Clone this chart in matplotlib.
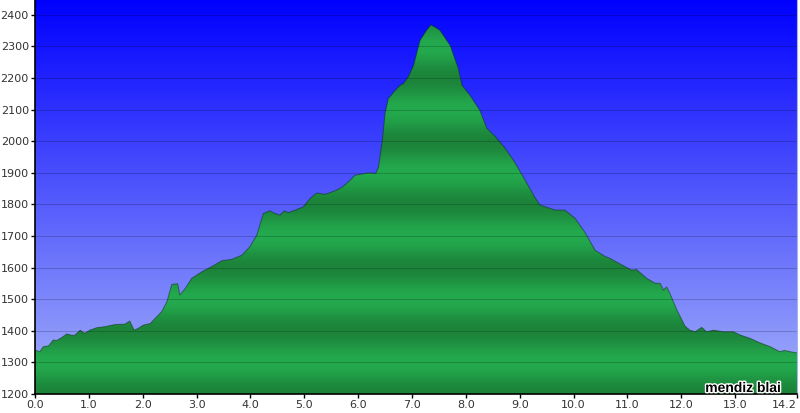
import numpy as np
import matplotlib
matplotlib.use("Agg")
import matplotlib.pyplot as plt
import matplotlib.patheffects as pe
from matplotlib.patches import Polygon

# elevation profile (km, m)
dist = [0.00, 0.09, 0.155, 0.25, 0.34, 0.40, 0.50, 0.59, 0.68, 0.74, 0.84, 0.92,
        1.02, 1.15, 1.30, 1.49, 1.67, 1.76, 1.84, 1.92, 2.01, 2.14, 2.23, 2.35,
        2.45, 2.54, 2.65, 2.69, 2.79, 2.91, 3.10, 3.28, 3.47, 3.65, 3.84, 3.99,
        4.12, 4.24, 4.36, 4.46, 4.55, 4.63, 4.70, 4.83, 4.98, 5.11, 5.23, 5.39,
        5.57, 5.69, 5.82, 5.94, 6.19, 6.33, 6.38, 6.45, 6.50, 6.56, 6.69, 6.78,
        6.84, 6.93, 7.03, 7.15, 7.27, 7.35, 7.43, 7.52, 7.71, 7.86, 7.93, 8.08,
        8.26, 8.39, 8.54, 8.73, 8.91, 9.10, 9.29, 9.38, 9.66, 9.84, 10.03, 10.21,
        10.40, 10.58, 10.68, 10.86, 11.08, 11.17, 11.36, 11.51, 11.61, 11.67, 11.73,
        11.79, 11.92, 12.07, 12.16, 12.26, 12.38, 12.47, 12.60, 12.78, 12.97, 13.09,
        13.28, 13.46, 13.65, 13.83, 13.92, 14.02, 14.15]
elev = [1339, 1334, 1350, 1352, 1371, 1369, 1379, 1390, 1386, 1386, 1402, 1392,
        1402, 1410, 1413, 1420, 1421, 1431, 1402, 1408, 1418, 1423, 1439, 1460,
        1492, 1547, 1549, 1513, 1534, 1566, 1587, 1603, 1622, 1626, 1639, 1666,
        1703, 1771, 1780, 1771, 1766, 1780, 1774, 1782, 1792, 1819, 1836, 1832,
        1843, 1853, 1871, 1892, 1900, 1898, 1919, 2003, 2087, 2135, 2161, 2177,
        2182, 2203, 2240, 2319, 2351, 2368, 2361, 2351, 2303, 2231, 2177, 2145,
        2098, 2041, 2016, 1978, 1933, 1877, 1820, 1798, 1782, 1782, 1756, 1712,
        1655, 1636, 1629, 1612, 1592, 1594, 1566, 1551, 1550, 1529, 1539,
        1518, 1466, 1415, 1402, 1397, 1411, 1397, 1402, 1397, 1397, 1387,
        1376, 1362, 1350, 1334, 1338, 1334, 1330]

xticks = [0, 1, 2, 3, 4, 5, 6, 7, 8, 9, 10, 11, 12, 13, 14.15]
xlabels = ["0.0", "1.0", "2.0", "3.0", "4.0", "5.0", "6.0", "7.0", "8.0", "9.0",
           "10.0", "11.0", "12.0", "13.0", "14.2"]
yticks = list(range(1200, 2401, 100))

xmin, xmax = 0, 14.15
ymin, ymax = 1200, 2447

fig = plt.figure(figsize=(8, 4.13), dpi=100)
ax = fig.add_axes([35 / 800, 19 / 413, 762 / 800, 394 / 413])

# blue sky gradient
e = np.linspace(ymin, ymax, 600)
f = ((ymax - e) / (ymax - ymin))[:, None]
top = np.array([0, 0, 255]) / 255
bot = np.array([165, 178, 250]) / 255
sky = (top + (bot - top) * f)[:, None, :].repeat(2, axis=1)
ax.imshow(sky, extent=[xmin, xmax, ymin, ymax], origin="lower",
          aspect="auto", zorder=0, interpolation="bilinear")

# green banded fill, darker at even hundreds
light = np.array([36, 170, 78]) / 255
dark = np.array([28, 132, 58]) / 255
t = 0.5 + 0.5 * np.cos(np.pi * (e - 1200) / 100)
green = (light + (dark - light) * t[:, None])[:, None, :].repeat(2, axis=1)
im = ax.imshow(green, extent=[xmin, xmax, ymin, ymax], origin="lower",
               aspect="auto", zorder=1, interpolation="bilinear")
verts = [(dist[0], ymin)] + list(zip(dist, elev)) + [(dist[-1], ymin)]
poly = Polygon(verts, closed=True, facecolor="none", edgecolor="none",
               transform=ax.transData)
ax.add_patch(poly)
im.set_clip_path(poly)

ax.plot(dist, elev, color="#0a2a10", lw=0.7, alpha=0.5, zorder=3)

for y in yticks[1:]:
    ax.axhline(y, color="black", lw=0.7, alpha=0.2, zorder=2)

ax.set_xlim(xmin, xmax)
ax.set_ylim(ymin, ymax)
ax.set_xticks(xticks)
ax.set_xticklabels(xlabels)
ax.set_yticks(yticks)
ax.tick_params(direction="out", length=3, width=1, color="black",
               labelsize=8, labelcolor="#333333", pad=1.5)
ax.get_xticklabels()[-1].set_ha("right")
ax.get_xticklabels()[-1].set_x(xmax)
ax.spines["top"].set_visible(False)
ax.spines["right"].set_color("#9fb8e8")
ax.spines["left"].set_linewidth(1.2)
ax.spines["bottom"].set_linewidth(1.2)

fig.text(781 / 800, (413 - 392) / 413, "mendiz blai", ha="right", va="baseline",
         fontsize=10, fontweight="bold", family="Liberation Sans", color="black",
         path_effects=[pe.withStroke(linewidth=2, foreground="white")])

fig.savefig("out.png", dpi=100)
